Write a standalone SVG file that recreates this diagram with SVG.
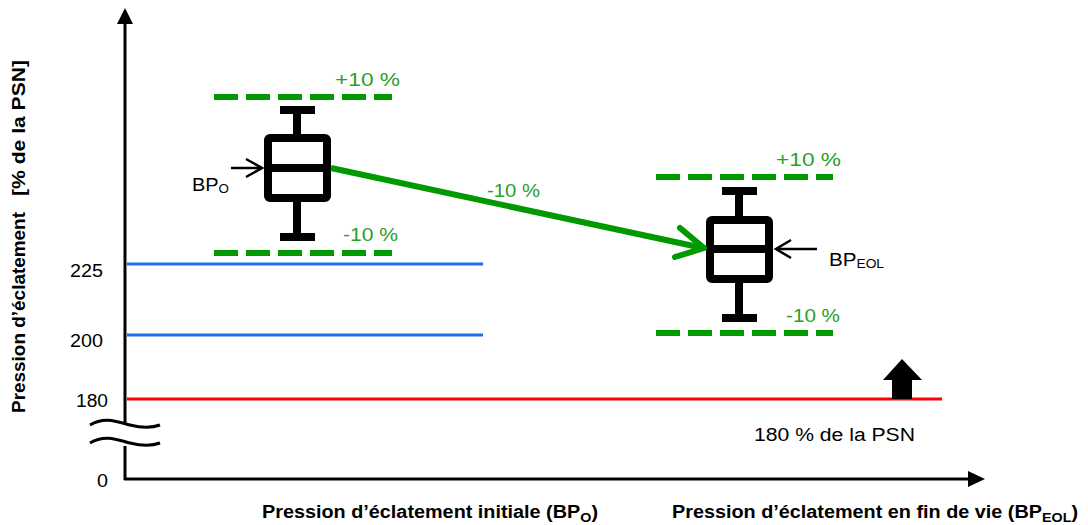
<svg xmlns="http://www.w3.org/2000/svg" width="1088" height="525" viewBox="0 0 1088 525">
<style>
text{font-family:"Liberation Sans",Arial,sans-serif;fill:#000}
.tick{font-size:18px}
.bold{font-size:18px;font-weight:bold}
.gt{font-size:19px;fill:#2aa02a}
.dash{stroke:#009900;stroke-width:6;stroke-dasharray:24 8;fill:none}
.box{stroke:#000;stroke-width:8;fill:none;stroke-linejoin:round}
.wh{stroke:#000;stroke-width:8;fill:none}
.thin{stroke:#000;stroke-width:2.5;fill:none}
</style>
<g id="axes">
<line x1="125" y1="423" x2="125" y2="22" stroke="#000" stroke-width="3"/>
<path d="M117,24 L125,8 L133,24 Z" fill="#000"/>
<line x1="125" y1="446" x2="125" y2="480" stroke="#000" stroke-width="3"/>
<line x1="124" y1="479" x2="970" y2="479" stroke="#000" stroke-width="3"/>
<path d="M968,471 L985,479 L968,487 Z" fill="#000"/>
<path d="M90,425 C105,416 118,422 130,425 C142,428 152,428 160,425" stroke="#000" stroke-width="3" fill="none"/>
<path d="M90,443 C105,434 118,440 130,443 C142,446 152,446 160,443" stroke="#000" stroke-width="3" fill="none"/>
</g>
<g id="ticks">
<text class="tick" x="70" y="277" textLength="33" lengthAdjust="spacingAndGlyphs">225</text>
<text class="tick" x="70" y="347" textLength="33" lengthAdjust="spacingAndGlyphs">200</text>
<text class="tick" x="76" y="407" textLength="32" lengthAdjust="spacingAndGlyphs">180</text>
<text class="tick" x="97" y="487" textLength="11" lengthAdjust="spacingAndGlyphs">0</text>
</g>
<g id="ylabel">
<text class="bold" transform="translate(25,413) rotate(-90)" textLength="201" lengthAdjust="spacingAndGlyphs">Pression d’éclatement</text>
<text class="bold" transform="translate(25,196) rotate(-90)" textLength="136" lengthAdjust="spacingAndGlyphs">[% de la PSN]</text>
</g>
<g id="xlabels">
<text class="bold" x="262" y="518" textLength="336" lengthAdjust="spacingAndGlyphs">Pression d’éclatement initiale (BP<tspan font-size="13" dy="4">O</tspan><tspan dy="-4">)</tspan></text>
<text class="bold" x="672" y="518" textLength="406" lengthAdjust="spacingAndGlyphs">Pression d’éclatement en fin de vie (BP<tspan font-size="13" dy="4">EOL</tspan><tspan dy="-4">)</tspan></text>
</g>
<g id="limits">
<line x1="127" y1="264" x2="483" y2="264" stroke="#1f6fe8" stroke-width="3"/>
<line x1="127" y1="335" x2="483" y2="335" stroke="#1f6fe8" stroke-width="3"/>
<line x1="127" y1="399" x2="942" y2="399" stroke="#ff0000" stroke-width="3"/>
<path d="M892,399 L892,380 L883,380 L902,359 L922,380 L912,380 L912,399 Z" fill="#000"/>
<text class="tick" x="754" y="441" textLength="161" lengthAdjust="spacingAndGlyphs">180 % de la PSN</text>
</g>
<g id="box-initial">
<line class="dash" x1="214" y1="97" x2="392" y2="97"/>
<line class="dash" x1="214" y1="253" x2="392" y2="253"/>
<text class="gt" x="335" y="86" textLength="65" lengthAdjust="spacingAndGlyphs">+10 %</text>
<text class="gt" x="343" y="241" textLength="55" lengthAdjust="spacingAndGlyphs">-10 %</text>
<line class="wh" x1="280" y1="110" x2="315" y2="110"/>
<line class="wh" x1="297" y1="110" x2="297" y2="138"/>
<line class="wh" x1="297" y1="198" x2="297" y2="237"/>
<line class="wh" x1="280" y1="237" x2="315" y2="237"/>
<rect class="box" x="268" y="138" width="59" height="60" rx="2"/>
<line class="wh" x1="268" y1="168" x2="327" y2="168"/>
<line class="thin" x1="231" y1="168" x2="262" y2="168"/>
<path class="thin" d="M246,159 L262,168 L246,177"/>
<text x="192" y="191" font-size="18" textLength="37" lengthAdjust="spacingAndGlyphs">BP<tspan font-size="12" dy="2">O</tspan></text>
</g>
<g id="box-eol">
<line class="dash" x1="656" y1="177" x2="833" y2="177"/>
<line class="dash" x1="656" y1="333" x2="833" y2="333"/>
<text class="gt" x="776" y="166" textLength="65" lengthAdjust="spacingAndGlyphs">+10 %</text>
<text class="gt" x="786" y="322" textLength="54" lengthAdjust="spacingAndGlyphs">-10 %</text>
<line class="wh" x1="722" y1="191" x2="757" y2="191"/>
<line class="wh" x1="739" y1="191" x2="739" y2="220"/>
<line class="wh" x1="739" y1="279" x2="739" y2="318"/>
<line class="wh" x1="722" y1="318" x2="757" y2="318"/>
<rect class="box" x="710" y="220" width="59" height="59" rx="2"/>
<line class="wh" x1="710" y1="249" x2="769" y2="249"/>
<line class="thin" x1="817" y1="249" x2="776" y2="249"/>
<path class="thin" d="M791,240 L776,249 L791,258"/>
<text x="829" y="266" font-size="18" textLength="55" lengthAdjust="spacingAndGlyphs">BP<tspan font-size="12" dy="2">EOL</tspan></text>
</g>
<g id="connectors">
<line x1="331" y1="168" x2="703" y2="248" stroke="#009900" stroke-width="6"/>
<path d="M680,228 L704,248 L675,257" stroke="#009900" stroke-width="6" fill="none" stroke-linecap="round" stroke-linejoin="round"/>
<text class="gt" x="487" y="197" textLength="53" lengthAdjust="spacingAndGlyphs">-10 %</text>
</g>
</svg>
